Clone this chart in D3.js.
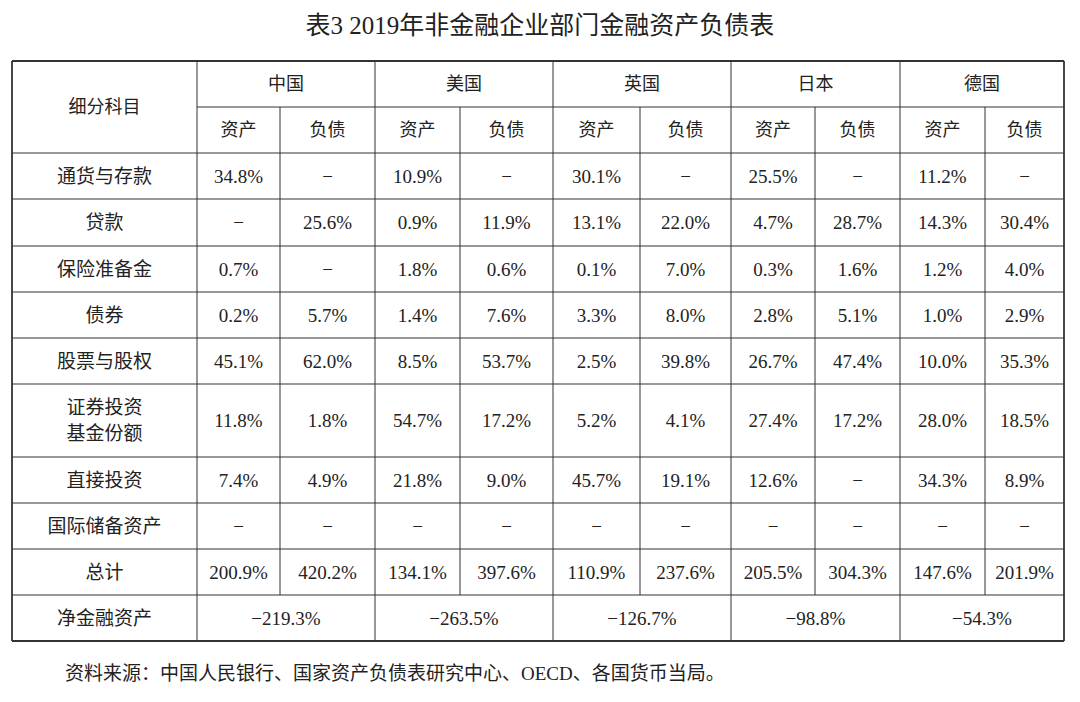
<!DOCTYPE html>
<html lang="en">
<head>
<meta charset="UTF-8">
<title>表3</title>
<style>
 body{margin:0;background:#fff;}
 text{font-family:"Liberation Serif","Noto Sans CJK SC",serif;fill:#222;}
</style>
</head>
<body>
<script src="https://d3js.org/d3.v7.min.js"></script>
<script>
// data
var title = "表3  2019年非金融企业部门金融资产负债表";
var source = "资料来源：中国人民银行、国家资产负债表研究中心、OECD、各国货币当局。";
var countries = ["中国", "美国", "英国", "日本", "德国"];
var subHeads = ["资产", "负债"];
var rowLabels = ["通货与存款", "贷款", "保险准备金", "债券", "股票与股权", "证券投资\n基金份额", "直接投资", "国际储备资产", "总计"];
var china   = [["34.8%","−"],["−","25.6%"],["0.7%","−"],["0.2%","5.7%"],["45.1%","62.0%"],["11.8%","1.8%"],["7.4%","4.9%"],["−","−"],["200.9%","420.2%"]];
var usa     = [["10.9%","−"],["0.9%","11.9%"],["1.8%","0.6%"],["1.4%","7.6%"],["8.5%","53.7%"],["54.7%","17.2%"],["21.8%","9.0%"],["−","−"],["134.1%","397.6%"]];
var uk      = [["30.1%","−"],["13.1%","22.0%"],["0.1%","7.0%"],["3.3%","8.0%"],["2.5%","39.8%"],["5.2%","4.1%"],["45.7%","19.1%"],["−","−"],["110.9%","237.6%"]];
var japan   = [["25.5%","−"],["4.7%","28.7%"],["0.3%","1.6%"],["2.8%","5.1%"],["26.7%","47.4%"],["27.4%","17.2%"],["12.6%","−"],["−","−"],["205.5%","304.3%"]];
var germany = [["11.2%","−"],["14.3%","30.4%"],["1.2%","4.0%"],["1.0%","2.9%"],["10.0%","35.3%"],["28.0%","18.5%"],["34.3%","8.9%"],["−","−"],["147.6%","201.9%"]];
var netLabel = "净金融资产";
var netAssets = ["−219.3%", "−263.5%", "−126.7%", "−98.8%", "−54.3%"];

var series = [china, usa, uk, japan, germany];

var svg = d3.select("body").append("svg").attr("width", 1080).attr("height", 702);

// column edges (11 columns)
var colEdges = [12, 197, 280, 375, 460, 553, 640, 731, 815, 900, 985, 1064];
var rowEdges = [61, 107, 153, 199, 246, 292, 338, 384, 457, 503, 549, 595, 641];
var xEdge = d3.scaleOrdinal().domain(d3.range(colEdges.length)).range(colEdges);
var yEdge = d3.scaleOrdinal().domain(d3.range(rowEdges.length)).range(rowEdges);
function cx(i, span){ return (xEdge(i) + xEdge(i + (span||1))) / 2; }
function cy(j, span){ return (yEdge(j) + yEdge(j + (span||1))) / 2; }

svg.append("text").attr("x", 540).attr("y", 34).attr("text-anchor", "middle")
  .style("font-size", "25px").text(title);

var g = svg.append("g");
var ln = function(x1,y1,x2,y2,w){
  g.append("line").attr("x1",x1).attr("y1",y1).attr("x2",x2).attr("y2",y2)
   .attr("stroke","#333").attr("stroke-width",w||1);
};
function txt(x, y, s, size){
  var lines = s.split("\n");
  lines.forEach(function(l, k){
    g.append("text").attr("x", x).attr("y", y + (k - (lines.length-1)/2) * 26)
      .attr("text-anchor","middle").attr("dominant-baseline","central")
      .style("font-size", (size||19) + "px").text(l);
  });
}

// horizontal lines
rowEdges.forEach(function(y, j){
  if (j === 1) ln(xEdge(1), y, xEdge(11), y, 1);
  else ln(xEdge(0), y, xEdge(11), y, (j === 0 || j === rowEdges.length-1) ? 1.8 : 1);
});
// vertical lines
colEdges.forEach(function(x, i){
  var outer = (i === 0 || i === colEdges.length-1);
  if (outer || i % 2 === 1) ln(x, yEdge(0), x, yEdge(12), outer ? 1.8 : 1);
  else { ln(x, yEdge(1), x, yEdge(11), 1); }
});

// headers
txt(cx(0), cy(0, 2), "细分科目", 18);
countries.forEach(function(c, k){
  txt(cx(1 + 2*k, 2), cy(0), c, 18);
  subHeads.forEach(function(s, m){ txt(cx(1 + 2*k + m), cy(1), s, 18); });
});

// body
rowLabels.forEach(function(r, j){
  txt(cx(0), cy(2 + j), r, 19);
  series.forEach(function(ser, k){
    ser[j].forEach(function(v, m){ txt(cx(1 + 2*k + m), cy(2 + j), v, 19); });
  });
});
txt(cx(0), cy(11), netLabel, 19);
netAssets.forEach(function(v, k){ txt(cx(1 + 2*k, 2), cy(11), v, 19); });

svg.append("text").attr("x", 65).attr("y", 680).style("font-size", "19px").text(source);
</script>
</body>
</html>
